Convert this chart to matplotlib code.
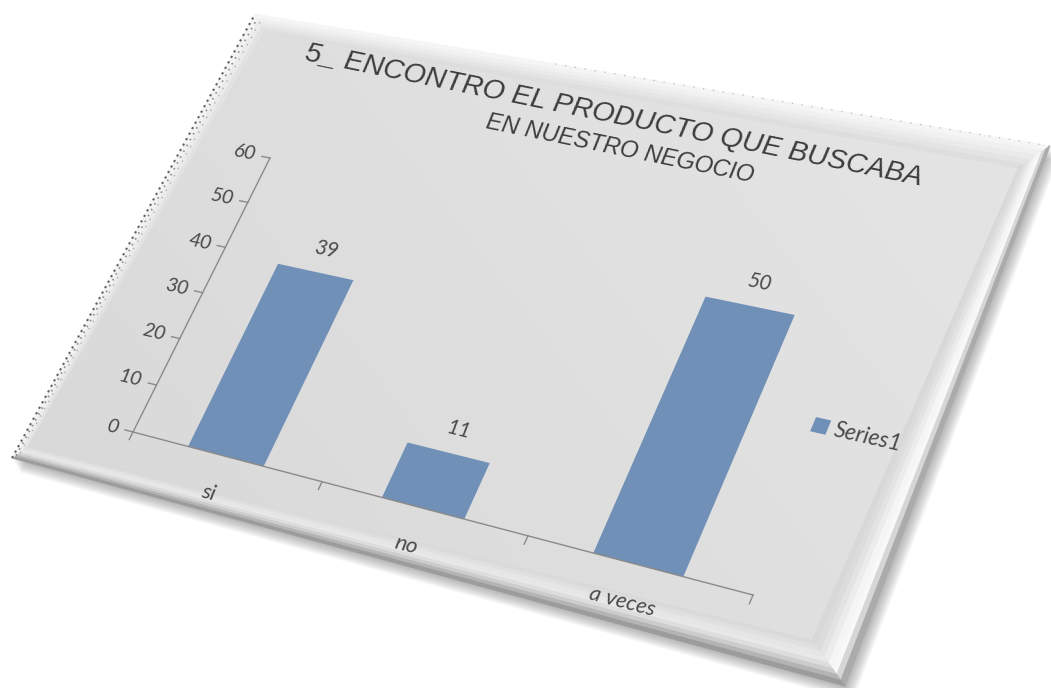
import numpy as np
import matplotlib
matplotlib.use("Agg")
import matplotlib.pyplot as plt
import matplotlib.transforms as mtransforms
from matplotlib.patches import Polygon, Rectangle

categories = ["si", "no", "a veces"]
values = [39, 11, 50]
series_name = "Series1"
y_ticks = [0, 10, 20, 30, 40, 50, 60]
title_lines = ["5_ ENCONTRO EL PRODUCTO QUE BUSCABA", "EN NUESTRO NEGOCIO"]

W, H = 1051, 688
bar_color = "#7090b7"
axis_color = "#8a8a8a"
text_color = "#4a4a4a"

# tilted panel, pixel coordinates (outer edge and inner bevel edge)
outer = np.array([(255, 14), (1050, 146), (845, 686), (12, 458)], float)
inner = np.array([(264, 32), (1018, 168), (812, 640), (28, 446)], float)

# plot area corners: (category position, value) -> pixel
src = [(-0.5, 0), (2.5, 0), (2.5, 60), (-0.5, 60)]
dst = [(133, 432), (753, 595), (885, 278), (270, 158)]


def homography(src, dst):
    A, b = [], []
    for (u, v), (x, y) in zip(src, dst):
        A.append([u, v, 1, 0, 0, 0, -u * x, -v * x])
        b.append(x)
        A.append([0, 0, 0, u, v, 1, -u * y, -v * y])
        b.append(y)
    h = np.linalg.solve(np.array(A, float), np.array(b, float))
    return np.append(h, 1.0).reshape(3, 3)


class Perspective(mtransforms.Transform):
    input_dims = output_dims = 2
    has_inverse = True

    def __init__(self, M):
        super().__init__()
        self.M = M

    def transform_non_affine(self, values):
        pts = np.atleast_2d(np.asarray(values, float))
        q = np.column_stack([pts, np.ones(len(pts))]) @ self.M.T
        return q[:, :2] / q[:, 2:]

    def inverted(self):
        return Perspective(np.linalg.inv(self.M))


def bevel(o0, o1, i0, i1, colors):
    # strips running from the inner edge (first colour) to the outer edge (last)
    n = len(colors)
    for k, c in enumerate(colors):
        a, b = k / n, (k + 1) / n
        pts = [i0 + (o0 - i0) * a, i1 + (o1 - i1) * a,
               i1 + (o1 - i1) * b, i0 + (o0 - i0) * b]
        ax.add_patch(Polygon(pts, closed=True, facecolor=c, edgecolor=c, lw=0.6, zorder=1))


fig = plt.figure(figsize=(W / 100, H / 100), dpi=100)
ax = fig.add_axes([0, 0, 1, 1])
ax.set_xlim(0, W)
ax.set_ylim(H, 0)
ax.axis("off")

# soft drop shadow
for k in range(18, 0, -2):
    ax.add_patch(Polygon(outer + [k * 0.45, k * 0.8], closed=True,
                         facecolor="#505050", edgecolor="none", alpha=0.05, zorder=0))

# bevelled frame
bevel(outer[0], outer[1], inner[0], inner[1],
      ["#dedede", "#e4e4e4", "#eaeaea", "#f0f0f0", "#f5f5f5"])
bevel(outer[1], outer[2], inner[1], inner[2],
      ["#d8d8d8", "#dcdcdc", "#e3e3e3", "#ececec", "#f5f5f5", "#f8f8f8", "#d6d6d6", "#ababab"])
bevel(outer[2], outer[3], inner[2], inner[3],
      ["#dadada", "#e0e0e0", "#e6e6e6", "#e8e8e8", "#dddddd", "#cccccc", "#b4b4b4", "#9c9c9c"])
bevel(outer[3], outer[0], inner[3], inner[0],
      ["#e2e2e2", "#ebebeb", "#f3f3f3"])

# face with a gentle gradient
face = Polygon(inner, closed=True, facecolor="none", edgecolor="none")
ax.add_patch(face)
gx, gy = np.meshgrid(np.linspace(0, 1, 200), np.linspace(0, 1, 140))
grad = 0.84 + 0.04 * gx + 0.02 * (1 - gy)
img = ax.imshow(grad, extent=(0, W, H, 0), cmap="gray", vmin=0, vmax=1,
                aspect="auto", zorder=1.5, interpolation="bilinear")
img.set_clip_path(face)

# grainy left and top edges
ax.plot([outer[3][0], outer[0][0]], [outer[3][1], outer[0][1]], color="#3a3a3a",
        lw=1.5, ls=(0, (1, 2)), alpha=0.8, zorder=2)
ax.plot([outer[3][0] + 4, outer[0][0] + 2.5], [outer[3][1] - 2.5, outer[0][1] + 4], color="#4a4a4a",
        lw=1.2, ls=(0, (1, 3)), alpha=0.6, zorder=2)
ax.plot([outer[3][0] + 8, outer[0][0] + 5], [outer[3][1] - 5, outer[0][1] + 8], color="#666666",
        lw=1.0, ls=(0, (1, 5)), alpha=0.45, zorder=2)
ax.plot([outer[0][0] + 300, outer[1][0]], [outer[0][1] + 50, outer[1][1]], color="#7a7a7a",
        lw=0.9, ls=(0, (1, 7)), alpha=0.5, zorder=2)

tr = Perspective(homography(src, dst)) + ax.transData


def local_angle(u, v):
    p0 = tr.transform((u, v))
    p1 = tr.transform((u + 0.05, v))
    return np.degrees(np.arctan2(p1[1] - p0[1], p1[0] - p0[0]))


def up_dir(u, v):
    p0 = tr.transform((u, v))
    p1 = tr.transform((u, v + 1))
    d = p1 - p0
    return d / np.hypot(*d)


# bars
x = np.arange(len(categories))
ax.bar(x, values, width=0.4, color=bar_color, transform=tr, zorder=3)

# axes lines and ticks
ax.plot([-0.5, 2.5], [0, 0], color=axis_color, lw=1, transform=tr, zorder=3)
ax.plot([-0.5, -0.5], [0, 60], color=axis_color, lw=1, transform=tr, zorder=3)
for t in y_ticks:
    ax.plot([-0.545, -0.5], [t, t], color=axis_color, lw=1, transform=tr, zorder=3)
    ax.annotate(str(t), xy=(-0.58, t), xycoords=tr, ha="right", va="center",
                rotation=local_angle(-0.5, t), rotation_mode="anchor",
                fontsize=14.5, family="Lato", style="italic", color=text_color)
for b in np.arange(-0.5, len(categories), 1.0):
    ax.plot([b, b], [0, -1.6], color=axis_color, lw=1, transform=tr, zorder=3)

# category labels
for i, c in enumerate(categories):
    d = up_dir(i, 0)
    ax.annotate(c, xy=(i, 0), xycoords=tr, xytext=(-d[0] * 29, -d[1] * 29),
                textcoords="offset points", ha="center", va="center",
                rotation=local_angle(i, 0), rotation_mode="anchor",
                fontsize=16, family="Lato", style="italic", color=text_color)

# value labels
for i, v in enumerate(values):
    d = up_dir(i, v)
    ax.annotate(str(v), xy=(i, v), xycoords=tr, xytext=(d[0] * 18, d[1] * 18),
                textcoords="offset points", ha="center", va="center",
                rotation=local_angle(i, v), rotation_mode="anchor",
                fontsize=15, family="Lato", style="italic", color=text_color)

# legend
lu, lv = tr.inverted().transform(ax.transData.transform((820, 426)))
ax.add_patch(Rectangle((lu - 0.03, lv - 1.3), 0.065, 2.7, facecolor=bar_color,
                       edgecolor="none", transform=tr, zorder=3))
ax.annotate(series_name, xy=(lu + 0.06, lv), xycoords=tr, ha="left", va="center",
            rotation=local_angle(lu, lv), rotation_mode="anchor",
            fontsize=16.5, family="Lato", style="italic", color=text_color)

# title
for (px, py), line, fs in zip([(614, 116), (620, 149)], title_lines, [20.5, 17]):
    ax.text(px, py, line, ha="center", va="center", rotation=-11.5,
            rotation_mode="anchor", fontsize=fs, family="Liberation Sans",
            style="italic", color="#3c3c3c", zorder=4)

fig.savefig("out.png", dpi=100, facecolor="white")
